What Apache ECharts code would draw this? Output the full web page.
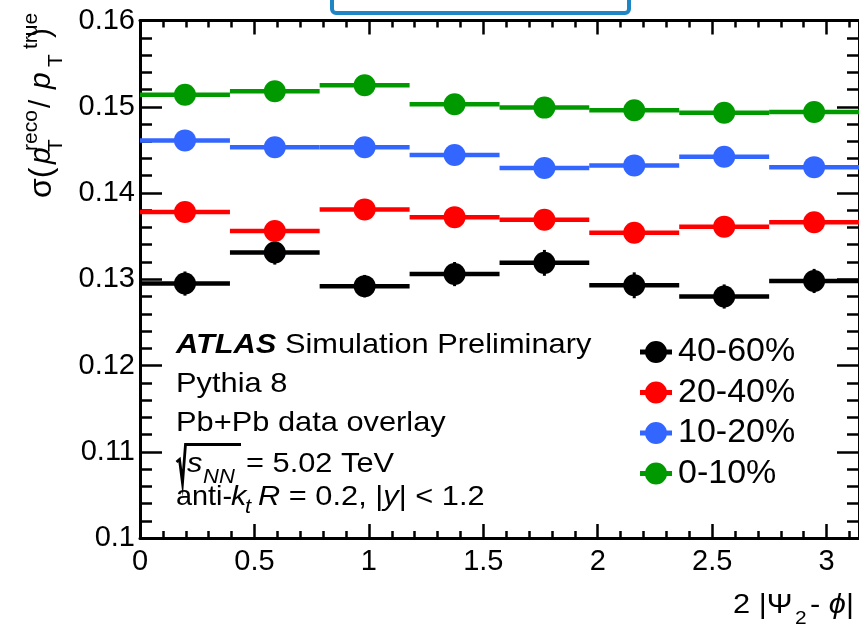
<!DOCTYPE html>
<html>
<head>
<meta charset="utf-8">
<script src="https://cdn.jsdelivr.net/npm/echarts@6/dist/echarts.min.js"></script>
<style>
  html, body { margin: 0; padding: 0; background: #ffffff; }
  #chart { width: 859px; height: 628px; }
</style>
</head>
<body>
<div id="chart"></div>
<script>
// Bins in 2|Psi_2 - phi| (eight equal bins over [0, pi])
const binLo = [0.000, 0.393, 0.785, 1.178, 1.571, 1.963, 2.356, 2.749];
const binHi = [0.393, 0.785, 1.178, 1.571, 1.963, 2.356, 2.749, 3.142];

// Centrality classes, in legend order
const centralityLabels = ['40-60%', '20-40%', '10-20%', '0-10%'];

// Jet energy resolution sigma(pT_reco / pT_true) and its statistical error
const sigma_40_60 = [0.1295, 0.1331, 0.1292, 0.1306, 0.1319, 0.1293, 0.1280, 0.1298];
const err_40_60   = [0.0014, 0.0014, 0.0013, 0.0014, 0.0015, 0.0015, 0.0014, 0.0014];
const sigma_20_40 = [0.1378, 0.1356, 0.1381, 0.1372, 0.1369, 0.1354, 0.1361, 0.1366];
const err_20_40   = [0.0008, 0.0008, 0.0008, 0.0008, 0.0008, 0.0008, 0.0008, 0.0008];
const sigma_10_20 = [0.1461, 0.1453, 0.1453, 0.1444, 0.1429, 0.1432, 0.1442, 0.1430];
const err_10_20   = [0.0007, 0.0007, 0.0007, 0.0007, 0.0007, 0.0007, 0.0007, 0.0007];
const sigma_0_10  = [0.1514, 0.1518, 0.1525, 0.1503, 0.1499, 0.1496, 0.1493, 0.1494];
const err_0_10    = [0.0007, 0.0007, 0.0007, 0.0007, 0.0007, 0.0007, 0.0007, 0.0007];

// Axis ranges and tick spacing
const xRange = [0, Math.PI];
const xMajorStep = 0.5;
const xMinorStep = 0.1;
const yRange = [0.10, 0.16];
const yMajorStep = 0.01;

const seriesValues = [sigma_40_60, sigma_20_40, sigma_10_20, sigma_0_10];
const seriesErrors = [err_40_60, err_20_40, err_10_20, err_0_10];
const seriesColors = ['#000000', '#ff0000', '#3366ff', '#009a00'];

const FONT = "'Liberation Sans', Arial, Helvetica, sans-serif";
const INK = '#000000';

// Legend marker: filled circle with short horizontal bar stubs
const markerIcon = 'path://M0,8.5 H6 V13.5 H0 Z M26,8.5 H32 V13.5 H26 Z M5,11 A11,11 0 1,1 27,11 A11,11 0 1,1 5,11 Z';

function binRenderer(color) {
  return function (params, api) {
    const lo = api.value(0), hi = api.value(1), v = api.value(2), e = api.value(3);
    const pLo = api.coord([lo, v]);
    const pHi = api.coord([hi, v]);
    const pC = api.coord([(lo + hi) / 2, v]);
    const yTop = api.coord([(lo + hi) / 2, v + e])[1];
    const yBot = api.coord([(lo + hi) / 2, v - e])[1];
    return {
      type: 'group',
      children: [
        { type: 'line', shape: { x1: pLo[0], y1: pLo[1], x2: pHi[0], y2: pHi[1] },
          style: { stroke: color, lineWidth: 4.5 } },
        { type: 'line', shape: { x1: pC[0], y1: yTop, x2: pC[0], y2: yBot },
          style: { stroke: color, lineWidth: 3 } },
        { type: 'circle', shape: { cx: pC[0], cy: pC[1], r: 11 },
          style: { fill: color } }
      ]
    };
  };
}

const series = centralityLabels.map(function (name, k) {
  return {
    name: name,
    type: 'custom',
    xAxisIndex: 0,
    yAxisIndex: 0,
    clip: false,
    itemStyle: { color: seriesColors[k] },
    encode: { x: [0, 1], y: 2 },
    data: binLo.map(function (lo, i) {
      return [lo, binHi[i], seriesValues[k][i], seriesErrors[k][i]];
    }),
    renderItem: binRenderer(seriesColors[k])
  };
});

function txt(x, y, text, size, extra) {
  const st = Object.assign({
    text: text, fontSize: size, fontFamily: FONT, fill: INK,
    align: 'left', verticalAlign: 'middle'
  }, (extra && extra.style) || {});
  const el = { type: 'text', x: x, y: y, style: st, silent: true };
  if (extra) {
    ['scaleX', 'rotation'].forEach(function (k) { if (extra[k] !== undefined) el[k] = extra[k]; });
  }
  return el;
}

const richStyles = {
  i: { fontStyle: 'italic', fontSize: 28, fontFamily: FONT, fill: INK },
  b: { fontStyle: 'italic', fontWeight: 'bold', fontSize: 28, fontFamily: FONT, fill: INK },
  r: { fontSize: 28, fontFamily: FONT, fill: INK }
};
const SX = 1.1;
const ROT = Math.PI / 2;

const graphics = [
  // framed box along the top edge
  { type: 'rect', shape: { x: 332, y: -20, width: 297, height: 33, r: 4 },
    style: { fill: '#ffffff', stroke: '#1f86c6', lineWidth: 4 }, silent: true },

  // y-axis title  sigma(pT^reco / pT^true), rotated
  txt(42, 198, 'σ(', 32, { rotation: ROT }),
  txt(42, 164, 'p', 30, { rotation: ROT, style: { fontStyle: 'italic' } }),
  txt(56, 152, 'T', 21, { rotation: ROT }),
  txt(31, 151, 'reco', 21, { rotation: ROT }),
  txt(42, 108, '/', 30, { rotation: ROT }),
  txt(42, 89, 'p', 30, { rotation: ROT, style: { fontStyle: 'italic' } }),
  txt(56, 67, 'T', 21, { rotation: ROT }),
  txt(31, 49, 'true', 21, { rotation: ROT }),
  txt(42, 38, ')', 30, { rotation: ROT }),

  // x-axis title  2|Psi_2 - phi|
  txt(733, 605, '2 |Ψ', 28, { scaleX: SX }),
  txt(795, 619, '2', 19, { scaleX: SX }),
  txt(810, 605, '- {i|ϕ}|', 28, { scaleX: SX, style: { rich: richStyles } }),

  // annotation block
  txt(176, 345, '{b|ATLAS} Simulation Preliminary', 28, { scaleX: SX, style: { rich: richStyles } }),
  txt(176, 384, 'Pythia 8', 28, { scaleX: SX }),
  txt(176, 423, 'Pb+Pb data overlay', 28, { scaleX: SX }),
  { type: 'polyline', silent: true,
    shape: { points: [[176.5, 462], [179.5, 459.5], [182.5, 483], [185.5, 444.5], [241, 444.5]] },
    style: { stroke: INK, lineWidth: 2.8, fill: null, lineJoin: 'miter' } },
  txt(187, 464, 's', 28, { scaleX: SX, style: { fontStyle: 'italic' } }),
  txt(203, 477, 'NN', 20, { scaleX: SX, style: { fontStyle: 'italic' } }),
  txt(246, 464, '= 5.02 TeV', 28, { scaleX: SX }),
  txt(176, 497, 'anti-', 28, { scaleX: 1.03 }),
  txt(231, 497, 'k', 28, { scaleX: SX, style: { fontStyle: 'italic' } }),
  txt(245, 507, 't', 20, { scaleX: SX, style: { fontStyle: 'italic' } }),
  txt(258, 497, '{i|R} = 0.2, |{i|y}| < 1.2', 28, { scaleX: SX, style: { rich: richStyles } })
];

const axisLineStyle = { color: INK, width: 3 };
const tickLineStyle = { color: INK, width: 2.5 };
const gridRect = { left: 140, top: 20.5, width: 723, bottom: 90 };

const option = {
  backgroundColor: '#ffffff',
  animation: false,
  textStyle: { fontFamily: FONT },
  grid: [
    Object.assign({ containLabel: false }, gridRect),
    Object.assign({ containLabel: false }, gridRect)
  ],
  xAxis: [
    { // bottom, major ticks and labels
      type: 'value', gridIndex: 0, position: 'bottom',
      min: xRange[0], max: xRange[1], interval: xMajorStep,
      axisLine: { show: true, onZero: false, lineStyle: axisLineStyle },
      axisTick: { show: true, inside: true, length: 14, lineStyle: tickLineStyle },
      axisLabel: { show: true, margin: 9, fontSize: 29, color: INK, fontFamily: FONT, showMaxLabel: false },
      splitLine: { show: false }
    },
    { // top mirror, major ticks
      type: 'value', gridIndex: 0, position: 'top',
      min: xRange[0], max: xRange[1], interval: xMajorStep,
      axisLine: { show: true, onZero: false, lineStyle: axisLineStyle },
      axisTick: { show: true, inside: true, length: 14, lineStyle: tickLineStyle },
      axisLabel: { show: false },
      splitLine: { show: false }
    },
    { // bottom, minor ticks
      type: 'value', gridIndex: 1, position: 'bottom',
      min: xRange[0], max: xRange[1], interval: xMinorStep,
      axisLine: { show: false, onZero: false },
      axisTick: { show: true, inside: true, length: 7, lineStyle: tickLineStyle },
      axisLabel: { show: false },
      splitLine: { show: false }
    },
    { // top, minor ticks
      type: 'value', gridIndex: 1, position: 'top',
      min: xRange[0], max: xRange[1], interval: xMinorStep,
      axisLine: { show: false, onZero: false },
      axisTick: { show: true, inside: true, length: 7, lineStyle: tickLineStyle },
      axisLabel: { show: false },
      splitLine: { show: false }
    }
  ],
  yAxis: [
    {
      type: 'value', gridIndex: 0, position: 'left',
      min: yRange[0], max: yRange[1], interval: yMajorStep,
      axisLine: { show: true, onZero: false, lineStyle: axisLineStyle },
      axisTick: { show: true, inside: true, length: 22, lineStyle: tickLineStyle },
      minorTick: { show: true, splitNumber: 5, length: 12, lineStyle: tickLineStyle },
      axisLabel: { show: true, margin: 5, fontSize: 29, color: INK, fontFamily: FONT },
      splitLine: { show: false }
    },
    {
      type: 'value', gridIndex: 0, position: 'right',
      min: yRange[0], max: yRange[1], interval: yMajorStep,
      axisLine: { show: true, onZero: false, lineStyle: axisLineStyle },
      axisTick: { show: true, inside: true, length: 22, lineStyle: tickLineStyle },
      minorTick: { show: true, splitNumber: 5, length: 12, lineStyle: tickLineStyle },
      axisLabel: { show: false },
      splitLine: { show: false }
    },
    {
      type: 'value', gridIndex: 1, show: false,
      min: yRange[0], max: yRange[1]
    }
  ],
  legend: {
    orient: 'vertical',
    left: 640,
    top: 335,
    itemWidth: 32,
    itemHeight: 22,
    itemGap: 6.5,
    selectedMode: false,
    padding: 0,
    textStyle: { fontSize: 34, lineHeight: 34, color: INK, fontFamily: FONT, padding: [0, 0, 0, 1] },
    data: centralityLabels.map(function (n) { return { name: n, icon: markerIcon }; })
  },
  series: series,
  graphic: graphics
};

const chart = echarts.init(document.getElementById('chart'), null, { renderer: 'canvas' });
chart.setOption(option);
</script>
</body>
</html>
